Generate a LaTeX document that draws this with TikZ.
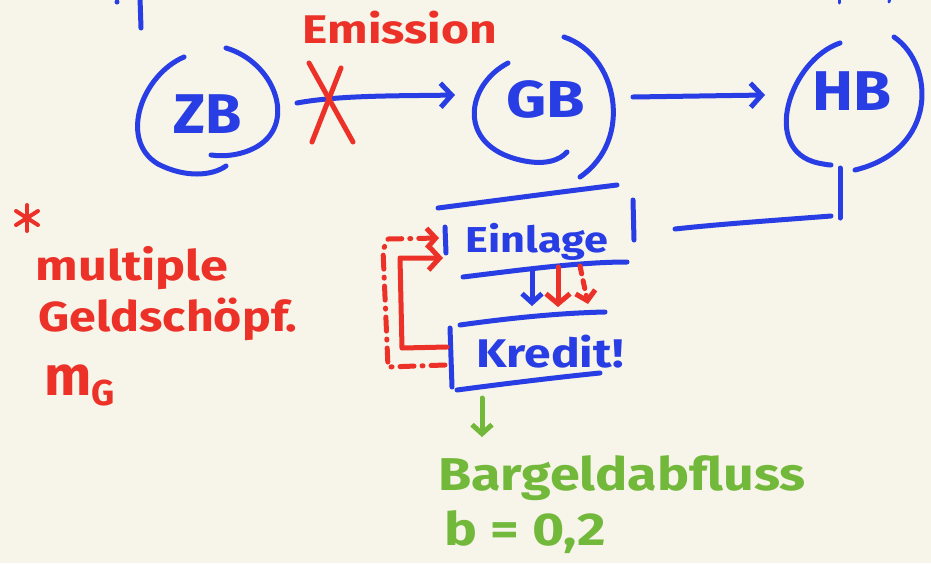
\documentclass[tikz,border=0pt]{standalone}
\usepackage{fontspec}
\setmainfont{Fira Sans}
\usetikzlibrary{arrows.meta}
\definecolor{bg}{RGB}{247,244,233}
\definecolor{pblue}{RGB}{40,62,228}
\definecolor{pred}{RGB}{236,50,40}
\definecolor{pgreen}{RGB}{114,184,58}
\newcommand\hsc[2]{\scalebox{#1}[1]{#2}}
\begin{document}
\begin{tikzpicture}[x=1pt,y=-1pt,
  pen/.style={line width=5pt,line cap=round,line join=round},
  bpen/.style={pen,draw=pblue},
  rpen/.style={pen,draw=pred},
  gpen/.style={pen,draw=pgreen},
  barb/.style={-{Straight Barb[length=11pt,width=24pt]}},
  smallbarb/.style={-{Straight Barb[length=9pt,width=20pt]}},
  hw/.style={inner sep=0pt,anchor=base},
  fs/.style={font=\fontsize{#1}{#1}\selectfont\bfseries},
  dashdot/.style={dash pattern=on 14pt off 8pt on 1pt off 8pt},
]
\fill[bg] (0,0) rectangle (931,563);
\useasboundingbox (0,0) rectangle (931,563);

% fragments at top edge
\draw[bpen] (140,-2) -- (141,28);
\fill[pblue] (117,2) circle (2.5pt);
\draw[bpen,line width=3pt] (839,-2) -- (839,3);
\draw[bpen,line width=3pt] (890,-2) -- (889,2);

% circle nodes (text)
\node[hw,text=pblue,fs=56] (ZB) at (208,133) {\hsc{1.05}{ZB}};
\node[hw,text=pblue,fs=52] (GB) at (546,117) {\hsc{1.2}{GB}};
\node[hw,text=pblue,fs=56] (HB) at (852,110) {\hsc{1.1}{HB}};

% open circles
\draw[bpen] (184,57) .. controls (142,75) and (118,140) .. (158,164) .. controls (185,178) and (212,176) .. (226,166);
\draw[bpen] (226,48) .. controls (274,62) and (297,122) .. (258,146) .. controls (243,155) and (225,157) .. (211,155);
\draw[bpen] (508,63) .. controls (466,85) and (456,145) .. (520,160) .. controls (545,166) and (560,160) .. (567,152);
\draw[bpen] (564,37) .. controls (618,55) and (634,140) .. (580,177);
\draw[bpen] (840,43) .. controls (790,60) and (760,150) .. (818,163) .. controls (823,164) and (828,165) .. (831,165);
\draw[bpen] (894,37) .. controls (935,65) and (938,150) .. (855,170);

% connectors between banks
\coordinate (zbout) at (297,103);
\coordinate (gbin) at (455,95);
\coordinate (gbout) at (633,97);
\coordinate (hbin) at (765,95);
\draw[bpen,barb] (zbout) .. controls (340,95) and (400,96) .. (gbin);
\draw[bpen,barb] (gbout) -- (hbin);

% Emission label and red cross
\node[hw,text=pred,fs=40] (em) at (400,43) {\hsc{1.2}{Emission}};
\draw[rpen] (309,63) -- (353,142);
\draw[rpen] (341,68) -- (312,142);

% Einlage box
\node[hw,text=pblue,fs=36] (EL) at (537,252) {\hsc{1.2}{Einlage}};
\draw[bpen] (438,208) .. controls (500,200) and (560,192) .. (617,185);
\draw[bpen] (445,227) -- (446,253);
\draw[bpen] (633,200) -- (634,240);
\draw[bpen] (463,277) .. controls (520,270) and (580,262) .. (627,262);

% HB to Einlage line
\coordinate (hbdown) at (840,168);
\coordinate (hbcorner) at (840,218);
\coordinate (hbl1) at (831,216);
\coordinate (hbl2) at (675,229);
\draw[bpen] (hbdown) -- (hbcorner);
\draw[bpen] (hbl1) .. controls (780,220) and (720,224) .. (hbl2);

% Kredit box
\node[hw,text=pblue,fs=40] (KR) at (550,367) {\hsc{1.2}{Kredit!}};
\draw[bpen] (460,325) .. controls (510,318) and (560,313) .. (605,312);
\draw[bpen] (450,328) -- (452,387);
\draw[bpen] (457,390) .. controls (510,383) and (560,377) .. (600,373);

% arrows Einlage -> Kredit
\coordinate (ba1) at (532,271); \coordinate (ba2) at (532,306);
\coordinate (ra1) at (558,267); \coordinate (ra2) at (558,307);
\coordinate (da1) at (580,266); \coordinate (da2) at (588,304);
\draw[bpen,smallbarb] (ba1) -- (ba2);
\draw[rpen,-{Straight Barb[length=10pt,width=24pt]}] (ra1) -- (ra2);
\draw[rpen,dash pattern=on 8pt off 7pt,smallbarb] (da1) -- (da2);

% red loops Kredit -> Einlage
\coordinate (kl1) at (447,347);
\coordinate (el1) at (443,258);
\draw[rpen,barb] (kl1) -- (402,348) -- (400,258) -- (el1);
\coordinate (kl2) at (445,365);
\coordinate (el2) at (439,238);
\draw[rpen,dashdot,smallbarb] (kl2) -- (388,367) -- (383,250) -- (388,239) -- (el2);

% green outflow
\coordinate (kb) at (482,398);
\coordinate (bg) at (482,437);
\draw[gpen,smallbarb] (kb) -- (bg);
\node[hw,text=pgreen,fs=46] (BA) at (622,490) {\hsc{1.17}{Bargeldabfluss}};
\node[hw,text=pgreen,fs=46] (bq) at (525,545) {\hsc{1.2}{b = 0,2}};

% red notes
\draw[rpen,line width=4pt] (27,205) -- (27,231);
\draw[rpen,line width=4pt] (16,211) -- (38,225);
\draw[rpen,line width=4pt] (38,211) -- (16,225);
\node[hw,text=pred,fs=42] (mul) at (132,280) {\hsc{1.2}{multiple}};
\node[hw,text=pred,fs=42] (gs) at (168,331) {\hsc{1.15}{Geldschöpf.}};
\node[hw,text=pred,fs=56,anchor=base west] (mg) at (44,395) {m\raisebox{-10pt}{\fontsize{36}{36}\selectfont G}};
\end{tikzpicture}
\end{document}
